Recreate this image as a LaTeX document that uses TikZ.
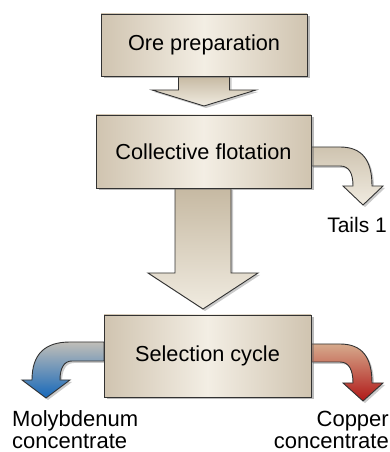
\documentclass[tikz,border=0pt]{standalone}
\usepackage{fontspec}
\setmainfont{Liberation Sans}
\usetikzlibrary{shadows}
\definecolor{boxedge}{RGB}{208,196,176}
\definecolor{boxmid}{RGB}{243,238,228}
\definecolor{shafttop}{RGB}{198,185,162}
\definecolor{shaftbot}{RGB}{240,235,224}
\definecolor{outline}{RGB}{50,50,50}
\definecolor{bluetop}{RGB}{192,190,184}
\definecolor{bluebot}{RGB}{22,104,186}
\definecolor{redtop}{RGB}{214,170,140}
\definecolor{redbot}{RGB}{176,24,24}
\tikzset{
  stepbox/.style={draw=outline, line width=0.9pt, inner sep=0pt, outer sep=0pt,
    left color=boxedge, right color=boxedge, middle color=boxmid,
    drop shadow={shadow xshift=2.5pt, shadow yshift=-2.5pt, opacity=0.45, fill=black!60},
    font=\fontsize{21.7}{24}\selectfont},
  blockarrow/.style={draw=outline, line width=0.9pt, line join=miter,
    top color=shafttop, bottom color=shaftbot,
    drop shadow={shadow xshift=2pt, shadow yshift=-2pt, opacity=0.35, fill=black!60}},
  bluearrow/.style={blockarrow, top color=bluetop, bottom color=bluebot},
  redarrow/.style={blockarrow, top color=redtop, bottom color=redbot},
  lbl/.style={inner sep=0pt, font=\fontsize{22}{22}\selectfont}
}
\begin{document}
\begin{tikzpicture}[x=1pt,y=1pt]
\useasboundingbox (0,0) rectangle (389,452);
% arrows (behind boxes)
\path[blockarrow] (178.5,376) -- (178.5,362) -- (152,362) -- (204,346) -- (256,362) -- (229.5,362) -- (229.5,376) -- cycle;
\path[blockarrow] (175,264) -- (175,179) -- (148,179) -- (203,143) -- (258,179) -- (231,179) -- (231,264) -- cycle;
\path[blockarrow, top color=shafttop!85!white] (311,305) -- (340,305) .. controls (362,305) and (372,292) .. (372,266) -- (383,266) -- (363,247) -- (343,266) -- (353,266) .. controls (353,279) and (349,286) .. (340,286) -- (311,286) -- cycle;
\path[bluearrow] (104,110) -- (70,110) .. controls (45,110) and (32,98) .. (32,72) -- (22,72) -- (46,54) -- (70,72) -- (60,72) .. controls (60,84) and (64,91) .. (72,91) -- (104,91) -- cycle;
\path[redarrow] (311,108) -- (340,108) .. controls (362,108) and (372,95) .. (372,69) -- (383,69) -- (363,51) -- (343,69) -- (353,69) .. controls (353,82) and (349,90) .. (340,90) -- (311,90) -- cycle;
% boxes
\node[stepbox, minimum width=206pt, minimum height=62pt] (b1) at (204,407) {Ore preparation};
\node[stepbox, minimum width=215pt, minimum height=73pt] (b2) at (203.5,300.5) {Collective flotation};
\node[stepbox, minimum width=207pt, minimum height=82pt] (b3) at (207.5,96) {Selection cycle};
% labels
\node[lbl, anchor=east, font=\fontsize{21}{23}\selectfont] (t1) at (387,227) {Tails 1};
\node[lbl, anchor=west, align=left] (mo) at (12,22) {Molybdenum\\concentrate};
\node[lbl, anchor=east, align=right] (cu) at (389,22) {Copper\\concentrate};
\end{tikzpicture}
\end{document}
